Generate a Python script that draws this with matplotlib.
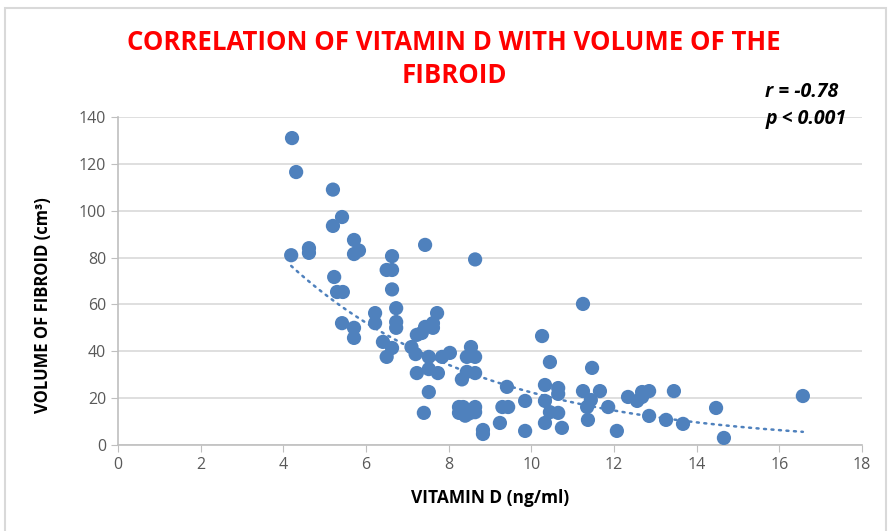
import numpy as np
import matplotlib
matplotlib.use("Agg")
import matplotlib.pyplot as plt
from matplotlib.patches import Rectangle

# vitamin D (ng/ml) vs fibroid volume (cm3)
vit_d = [4.21, 4.31, 4.19, 4.62, 4.62, 5.2, 5.2, 5.42, 5.71, 5.83,
         5.71, 6.63, 6.5, 6.63, 5.23, 5.3, 5.44, 6.63, 7.43, 8.64,
         6.22, 6.73, 5.42, 6.22, 6.73, 6.73, 5.71, 5.71, 7.72, 7.62,
         7.62, 7.43, 7.23, 7.35, 6.41, 6.63, 6.5, 7.1, 7.2, 7.52,
         7.84, 8.03, 7.23, 7.52, 7.74, 8.32, 7.52, 7.4, 8.25, 8.25,
         11.25, 10.26, 8.54, 8.44, 8.64, 10.45, 8.44, 8.64, 11.47, 9.41,
         10.33, 10.65, 10.65, 11.25, 11.66, 11.44, 9.85, 10.33, 11.35, 11.86,
         8.35, 8.45, 8.64, 8.4, 8.64, 8.5, 9.3, 9.44, 10.45, 10.65,
         9.24, 10.33, 11.37, 10.74, 9.85, 8.83, 8.83, 12.07, 12.34, 12.56,
         12.68, 12.68, 12.85, 12.85, 13.26, 13.45, 13.67, 14.47, 14.66, 16.57]
volume = [131, 116.5, 81, 84, 82, 109, 93.5, 97.3, 87.5, 83,
          81.5, 80.6, 74.7, 74.7, 71.7, 65.3, 65.3, 66.4, 85.4, 79.2,
          56.3, 58.4, 52, 52, 52.5, 50, 50, 45.7, 56.3, 52,
          50, 50.4, 47, 47.8, 44, 41.4, 37.6, 41.8, 38.8, 37.6,
          37.6, 39.3, 30.7, 32.4, 30.7, 28, 22.6, 13.7, 16.2, 13.7,
          60.2, 46.5, 41.8, 37.6, 37.6, 35.4, 31.2, 30.7, 32.9, 24.8,
          25.6, 24.3, 21.8, 23, 23, 19.2, 18.8, 18.8, 16.2, 16.2,
          16.2, 14.5, 16.2, 12.5, 14, 13.5, 16.2, 16.2, 14, 13.7,
          9.4, 9.4, 10.7, 7.3, 6, 6.4, 4.7, 6, 20.5, 18.8,
          22.6, 20.5, 23, 12.4, 10.7, 23, 9, 15.8, 3, 20.9]

x_ticks = [0, 2, 4, 6, 8, 10, 12, 14, 16, 18]
y_ticks = [0, 20, 40, 60, 80, 100, 120, 140]

plt.rcParams['font.family'] = ['Open Sans', 'DejaVu Sans']

blue = '#4f81bd'
grey = '#595959'

fig = plt.figure(figsize=(8.9, 5.31), dpi=100)
ax = fig.add_axes([0.1326, 0.162, 0.8359, 0.6177])

ax.scatter(vit_d, volume, s=105, color=blue, edgecolors='none', zorder=3)

# exponential trendline (excel style: linear fit on log y)
xd = np.array(vit_d)
b, ln_a = np.polyfit(xd, np.log(volume), 1)
xs = np.linspace(xd.min(), xd.max(), 200)
ax.plot(xs, np.exp(ln_a) * np.exp(b * xs), color=blue, lw=1.8,
        linestyle=(0, (0.8, 2.2)), dash_capstyle='round', zorder=2)

ax.set_xlim(0, 18)
ax.set_ylim(0, 140)
ax.set_xticks(x_ticks)
ax.set_yticks(y_ticks)
ax.tick_params(colors='#bfbfbf', labelcolor=grey, labelsize=11.5, length=5,
               direction='out')
ax.grid(axis='y', color='#d9d9d9', lw=1.2)
ax.set_axisbelow(True)
for side in ['top', 'right']:
    ax.spines[side].set_visible(False)
for side in ['left', 'bottom']:
    ax.spines[side].set_color('#bfbfbf')
    ax.spines[side].set_linewidth(1.2)

ax.set_xlabel('VITAMIN D (ng/ml)', fontsize=12.5, fontweight='bold')
ax.set_ylabel('VOLUME OF FIBROID (cm³)', fontsize=12, fontweight='bold')
ax.xaxis.set_label_coords(0.5, -0.135)
ax.yaxis.set_label_coords(-0.089, 0.427)

fig.text(0.51, 0.92, 'CORRELATION OF VITAMIN D WITH VOLUME OF THE',
         ha='center', va='center', color='#ff0000', fontsize=18.5,
         fontweight='bold')
fig.text(0.51, 0.858, 'FIBROID', ha='center', va='center', color='#ff0000',
         fontsize=18.5, fontweight='bold')

fig.text(0.86, 0.827, 'r = -0.78', ha='left', va='center', fontsize=14,
         fontweight='bold', style='italic')
fig.text(0.86, 0.775, 'p < 0.001', ha='left', va='center', fontsize=14,
         fontweight='bold', style='italic')

fig.add_artist(Rectangle((0.006, -0.01), 0.99, 0.995, transform=fig.transFigure,
                         fill=False, edgecolor='#d9d9d9', lw=1.5))

fig.savefig('out.png', dpi=100)
